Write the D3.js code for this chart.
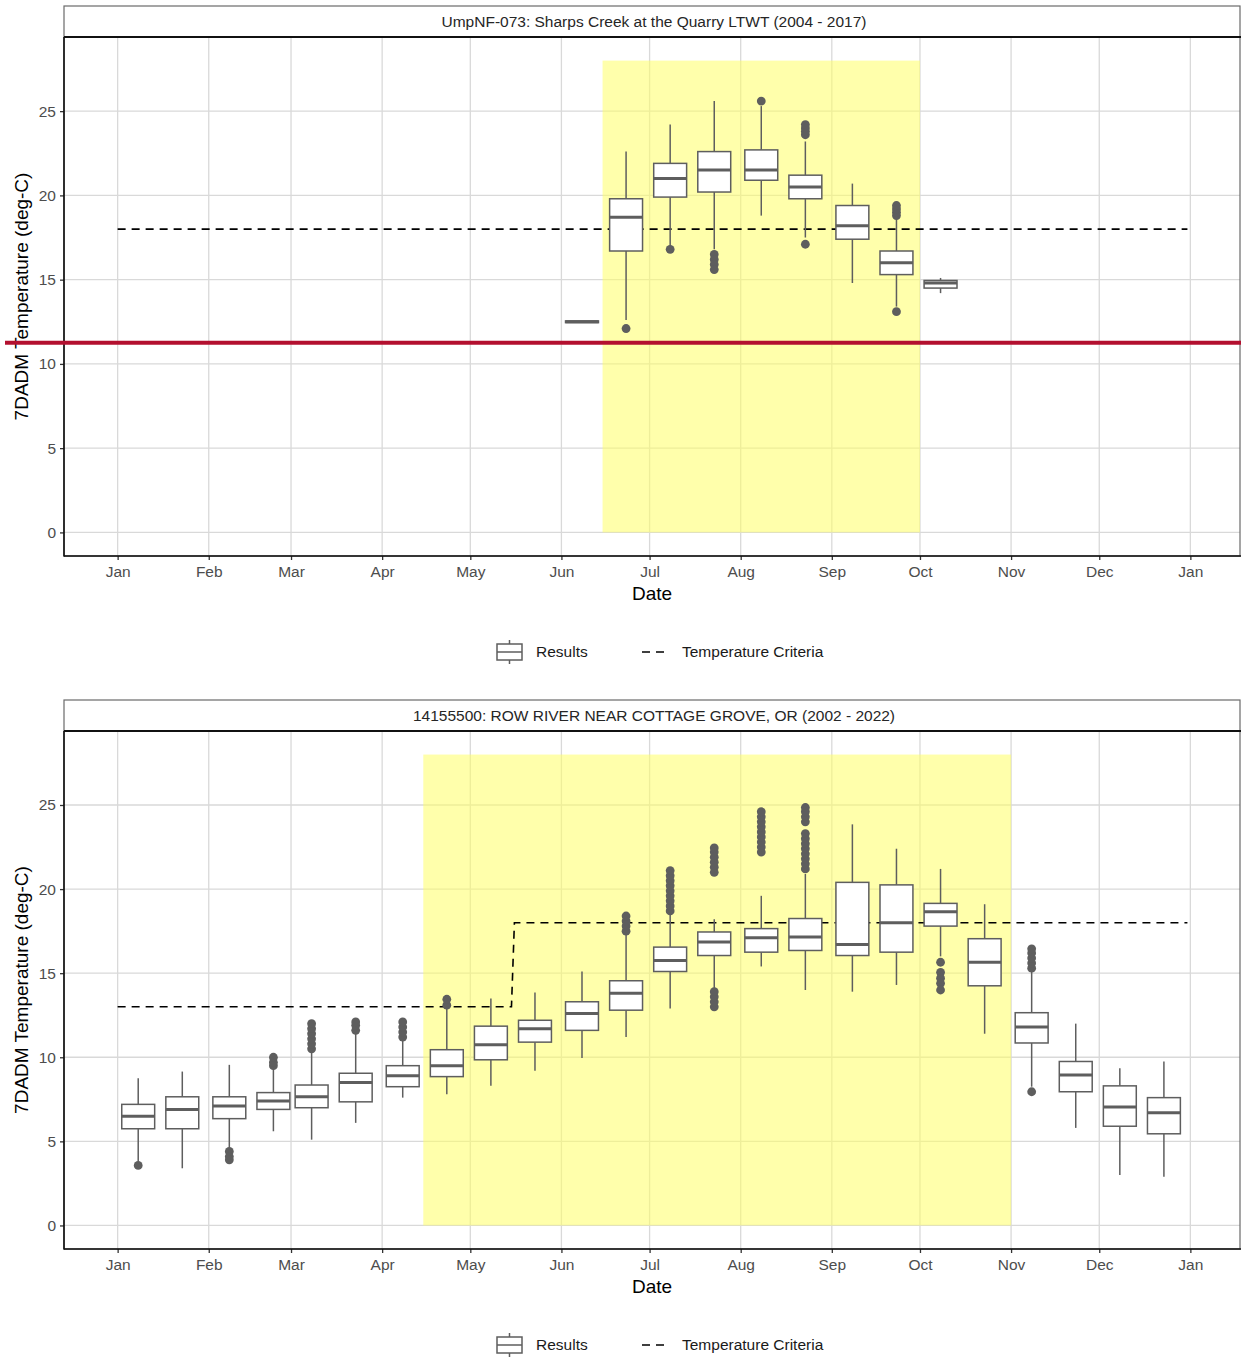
<!DOCTYPE html>
<html>
<head>
<meta charset="utf-8">
<script src="https://cdn.jsdelivr.net/npm/d3@7"></script>
<style>
  html, body { margin: 0; padding: 0; background: #fff; }
  svg { display: block; font-family: "Liberation Sans", Arial, Helvetica, sans-serif; }
</style>
</head>
<body>
<svg id="chart" width="1241" height="1358"></svg>
<script>
// ---- data -------------------------------------------------------------
const monthTickLabels = ["Jan","Feb","Mar","Apr","May","Jun","Jul","Aug","Sep","Oct","Nov","Dec","Jan"];

const sharpsTitle = "UmpNF-073: Sharps Creek at the Quarry LTWT (2004 - 2017)";
const rowTitle = "14155500: ROW RIVER NEAR COTTAGE GROVE, OR (2002 - 2022)";

// half-month 7DADM summaries: period centre (MM-DD), whisker ends, quartiles, median, outliers
const sharpsBoxes = [
  { d: "06-08", lo: 12.5, q1: 12.45, med: 12.5, q3: 12.55, hi: 12.5, out: [] },
  { d: "06-23", lo: 12.6, q1: 16.7, med: 18.7, q3: 19.8, hi: 22.6, out: [12.1] },
  { d: "07-08", lo: 17.0, q1: 19.9, med: 21.0, q3: 21.9, hi: 24.2, out: [16.8] },
  { d: "07-23", lo: 16.8, q1: 20.2, med: 21.5, q3: 22.6, hi: 25.6, out: [16.5, 16.2, 15.9, 15.6] },
  { d: "08-08", lo: 18.8, q1: 20.9, med: 21.5, q3: 22.7, hi: 25.3, out: [25.6] },
  { d: "08-23", lo: 17.5, q1: 19.8, med: 20.5, q3: 21.2, hi: 23.2, out: [17.1, 23.6, 23.8, 24.0, 24.2] },
  { d: "09-08", lo: 14.8, q1: 17.4, med: 18.2, q3: 19.4, hi: 20.7, out: [] },
  { d: "09-23", lo: 13.4, q1: 15.3, med: 16.0, q3: 16.7, hi: 18.6, out: [13.1, 18.8, 19.0, 19.2, 19.4] },
  { d: "10-08", lo: 14.2, q1: 14.5, med: 14.8, q3: 14.95, hi: 15.1, out: [] }
];

const rowBoxes = [
  { d: "01-08", lo: 3.8, q1: 5.75, med: 6.5, q3: 7.2, hi: 8.75, out: [3.57] },
  { d: "01-23", lo: 3.4, q1: 5.75, med: 6.9, q3: 7.65, hi: 9.15, out: [] },
  { d: "02-08", lo: 4.6, q1: 6.35, med: 7.1, q3: 7.65, hi: 9.55, out: [4.4, 4.1, 3.9] },
  { d: "02-23", lo: 5.6, q1: 6.9, med: 7.4, q3: 7.9, hi: 9.4, out: [9.5, 9.7, 10.0] },
  { d: "03-08", lo: 5.1, q1: 7.0, med: 7.65, q3: 8.35, hi: 10.3, out: [10.5, 10.8, 11.1, 11.4, 11.7, 12.0] },
  { d: "03-23", lo: 6.1, q1: 7.35, med: 8.5, q3: 9.05, hi: 11.5, out: [11.6, 11.9, 12.1] },
  { d: "04-08", lo: 7.6, q1: 8.25, med: 8.9, q3: 9.5, hi: 11.0, out: [11.2, 11.5, 11.8, 12.1] },
  { d: "04-23", lo: 7.8, q1: 8.85, med: 9.5, q3: 10.45, hi: 12.9, out: [13.1, 13.45] },
  { d: "05-08", lo: 8.3, q1: 9.85, med: 10.75, q3: 11.85, hi: 13.5, out: [] },
  { d: "05-23", lo: 9.2, q1: 10.9, med: 11.7, q3: 12.2, hi: 13.85, out: [] },
  { d: "06-08", lo: 9.95, q1: 11.6, med: 12.6, q3: 13.3, hi: 15.1, out: [] },
  { d: "06-23", lo: 11.2, q1: 12.8, med: 13.8, q3: 14.55, hi: 17.3, out: [17.5, 17.8, 18.1, 18.4] },
  { d: "07-08", lo: 12.9, q1: 15.1, med: 15.75, q3: 16.55, hi: 18.5, out: [18.7, 19.0, 19.3, 19.6, 19.9, 20.2, 20.5, 20.8, 21.1] },
  { d: "07-23", lo: 14.1, q1: 16.05, med: 16.85, q3: 17.45, hi: 18.2, out: [13.0, 13.3, 13.6, 13.9, 21.0, 21.3, 21.6, 21.9, 22.2, 22.45] },
  { d: "08-08", lo: 15.4, q1: 16.25, med: 17.1, q3: 17.65, hi: 19.6, out: [22.2, 22.5, 22.8, 23.1, 23.4, 23.7, 24.0, 24.3, 24.6] },
  { d: "08-23", lo: 14.0, q1: 16.35, med: 17.15, q3: 18.25, hi: 20.9, out: [21.2, 21.5, 21.8, 22.1, 22.4, 22.7, 23.0, 23.3, 24.0, 24.3, 24.6, 24.85] },
  { d: "09-08", lo: 13.9, q1: 16.05, med: 16.7, q3: 20.4, hi: 23.85, out: [] },
  { d: "09-23", lo: 14.3, q1: 16.25, med: 18.0, q3: 20.25, hi: 22.4, out: [] },
  { d: "10-08", lo: 16.0, q1: 17.8, med: 18.65, q3: 19.15, hi: 21.2, out: [15.65, 15.05, 14.7, 14.4, 14.0] },
  { d: "10-23", lo: 11.4, q1: 14.25, med: 15.65, q3: 17.05, hi: 19.1, out: [] },
  { d: "11-08", lo: 8.25, q1: 10.85, med: 11.8, q3: 12.65, hi: 15.1, out: [15.3, 15.6, 15.9, 16.2, 16.45, 7.95] },
  { d: "11-23", lo: 5.8, q1: 7.95, med: 8.95, q3: 9.75, hi: 12.0, out: [] },
  { d: "12-08", lo: 3.0, q1: 5.9, med: 7.05, q3: 8.3, hi: 9.35, out: [] },
  { d: "12-23", lo: 2.9, q1: 5.45, med: 6.7, q3: 7.6, hi: 9.75, out: [] }
];

// temperature criteria as dated vertices of the dashed line
const sharpsCriteria = [ { d: "01-01", v: 18 }, { d: "12-31", v: 18 } ];
const rowCriteria = [ { d: "01-01", v: 13 }, { d: "05-15", v: 13 }, { d: "05-16", v: 18 }, { d: "12-31", v: 18 } ];

// spawning windows (shaded): start, end, upper value
const sharpsSpawn = { from: "06-15", to: "10-01", top: 28 };
const rowSpawn = { from: "04-15", to: "11-01", top: 28 };

const yTicks = [0, 5, 10, 15, 20, 25];
const referenceLevel = 11.25;   // highlighted level across the upper chart

// ---- helpers ----------------------------------------------------------
const YEAR = 2021;
const DAY = 864e5;
const toDate = s => { const [m, d] = s.split("-").map(Number); return new Date(YEAR, m - 1, d); };
const yearStart = new Date(YEAR, 0, 1), yearEnd = new Date(YEAR + 1, 0, 1);
const pad = 18.25 * DAY;

const svg = d3.select("#chart");
const FONT_TICK = "#4d4d4d";
const BOX_STROKE = "#5e5e5e";
const TXT = 15.5;

function drawPanel(cfg) {
  const g = svg.append("g");
  const { top, stripH, bottom, left, right, frameRight } = cfg;
  const plotTop = top + stripH;

  const x = d3.scaleTime()
    .domain([new Date(+yearStart - pad), new Date(+yearEnd + pad)])
    .range([left, right]);
  const y = d3.scaleLinear().domain([-1.4, 29.4]).range([bottom, plotTop]);

  const monthTicks = d3.timeMonth.range(yearStart, new Date(YEAR + 1, 0, 2));

  // grid
  g.append("g").selectAll("line").data(yTicks).join("line")
    .attr("x1", left).attr("x2", frameRight).attr("y1", d => y(d)).attr("y2", d => y(d))
    .attr("stroke", "#d9d9d9").attr("stroke-width", 1.3);
  g.append("g").selectAll("line").data(monthTicks).join("line")
    .attr("x1", d => x(d)).attr("x2", d => x(d)).attr("y1", plotTop).attr("y2", bottom)
    .attr("stroke", "#d9d9d9").attr("stroke-width", 1.3);

  // spawning window shading
  const sp = cfg.spawn;
  g.append("rect")
    .attr("x", x(toDate(sp.from))).attr("width", x(toDate(sp.to)) - x(toDate(sp.from)))
    .attr("y", y(sp.top)).attr("height", y(0) - y(sp.top))
    .attr("fill", "#ffff66").attr("fill-opacity", 0.55);

  // criteria
  const line = d3.line().x(d => x(toDate(d.d))).y(d => y(d.v));
  g.append("path").datum(cfg.criteria).attr("d", line)
    .attr("fill", "none").attr("stroke", "#000").attr("stroke-width", 1.6)
    .attr("stroke-dasharray", "8,6");

  // boxplots
  const half = 5.6 * DAY;
  const boxes = g.append("g").selectAll("g").data(cfg.boxes).join("g");
  boxes.each(function (b) {
    const s = d3.select(this);
    const c = toDate(b.d);
    const cx = x(c), x0 = x(new Date(+c - half)), x1 = x(new Date(+c + half));
    s.append("line").attr("x1", cx).attr("x2", cx).attr("y1", y(b.hi)).attr("y2", y(b.q3))
      .attr("stroke", BOX_STROKE).attr("stroke-width", 1.5);
    s.append("line").attr("x1", cx).attr("x2", cx).attr("y1", y(b.q1)).attr("y2", y(b.lo))
      .attr("stroke", BOX_STROKE).attr("stroke-width", 1.5);
    s.append("rect").attr("x", x0).attr("width", x1 - x0)
      .attr("y", y(b.q3)).attr("height", Math.max(0, y(b.q1) - y(b.q3)))
      .attr("fill", "#fff").attr("stroke", BOX_STROKE).attr("stroke-width", 1.5);
    s.append("line").attr("x1", x0).attr("x2", x1).attr("y1", y(b.med)).attr("y2", y(b.med))
      .attr("stroke", BOX_STROKE).attr("stroke-width", 3);
    s.selectAll("circle").data(b.out).join("circle")
      .attr("cx", cx).attr("cy", v => y(v)).attr("r", 4.4).attr("fill", "#5e5e5e");
  });

  // frame and strip
  g.append("rect").attr("x", left).attr("y", top).attr("width", frameRight - left).attr("height", bottom - top)
    .attr("fill", "none").attr("stroke", "#6a6a6a").attr("stroke-width", 1.2);
  g.append("line").attr("x1", left).attr("x2", 1241).attr("y1", plotTop).attr("y2", plotTop)
    .attr("stroke", "#111").attr("stroke-width", 1.8);
  g.append("text").attr("x", (left + right) / 2).attr("y", top + stripH / 2).attr("dy", "0.35em")
    .attr("text-anchor", "middle").attr("font-size", TXT).attr("fill", "#262626").text(cfg.title);

  // axes
  const yAxis = d3.axisLeft(y).tickValues(yTicks).tickSize(4).tickPadding(4);
  const ya = g.append("g").attr("transform", `translate(${left},0)`).call(yAxis);
  const xAxis = d3.axisBottom(x).tickValues(monthTicks).tickSize(4).tickPadding(6)
    .tickFormat((d, i) => monthTickLabels[i]);
  const xa = g.append("g").attr("transform", `translate(0,${bottom})`).call(xAxis);
  [ya, xa].forEach(a => {
    a.select(".domain").remove();
    a.selectAll(".tick line").attr("stroke", "#333").attr("stroke-width", 1.3);
    a.selectAll(".tick text").attr("fill", FONT_TICK).attr("font-size", TXT)
      .attr("font-family", "Liberation Sans, Arial, sans-serif");
  });
  g.append("line").attr("x1", left).attr("x2", left).attr("y1", plotTop).attr("y2", bottom + 0.6)
    .attr("stroke", "#111").attr("stroke-width", 1.6);
  g.append("line").attr("x1", left).attr("x2", 1241).attr("y1", bottom).attr("y2", bottom)
    .attr("stroke", "#111").attr("stroke-width", 1.6);

  // titles
  g.append("text").attr("x", (left + frameRight) / 2).attr("y", bottom + 44)
    .attr("text-anchor", "middle").attr("font-size", 19).attr("fill", "#000").text("Date");
  g.append("text")
    .attr("transform", `translate(${left - 36},${(plotTop + bottom) / 2}) rotate(-90)`)
    .attr("text-anchor", "middle").attr("font-size", 19).attr("fill", "#000")
    .text("7DADM Temperature (deg-C)");

  // legend
  const ly = bottom + cfg.legendGap;
  const lg = g.append("g");
  const bx = 497, bw = 25;
  lg.append("line").attr("x1", bx + bw / 2).attr("x2", bx + bw / 2).attr("y1", ly - 12).attr("y2", ly + 12)
    .attr("stroke", BOX_STROKE).attr("stroke-width", 1.5);
  lg.append("rect").attr("x", bx).attr("y", ly - 8).attr("width", bw).attr("height", 16)
    .attr("fill", "#fff").attr("stroke", BOX_STROKE).attr("stroke-width", 1.5);
  lg.append("line").attr("x1", bx).attr("x2", bx + bw).attr("y1", ly).attr("y2", ly)
    .attr("stroke", BOX_STROKE).attr("stroke-width", 1.5);
  lg.append("text").attr("x", 536).attr("y", ly).attr("dy", "0.35em")
    .attr("font-size", TXT).attr("fill", "#1a1a1a").text("Results");
  lg.append("line").attr("x1", 642).attr("x2", 668).attr("y1", ly).attr("y2", ly)
    .attr("stroke", "#000").attr("stroke-width", 1.6).attr("stroke-dasharray", "8,6");
  lg.append("text").attr("x", 682).attr("y", ly).attr("dy", "0.35em")
    .attr("font-size", TXT).attr("fill", "#1a1a1a").text("Temperature Criteria");

  return { x, y };
}

const topPanel = drawPanel({
  top: 6, stripH: 31, bottom: 556, left: 64, right: 1244, frameRight: 1240,
  title: sharpsTitle, boxes: sharpsBoxes, criteria: sharpsCriteria, spawn: sharpsSpawn, legendGap: 96
});
drawPanel({
  top: 700, stripH: 31, bottom: 1249, left: 64, right: 1244, frameRight: 1240,
  title: rowTitle, boxes: rowBoxes, criteria: rowCriteria, spawn: rowSpawn, legendGap: 96
});

// highlighted reference level across the full width of the upper chart
svg.append("line")
  .attr("x1", 5).attr("x2", 1241)
  .attr("y1", topPanel.y(referenceLevel)).attr("y2", topPanel.y(referenceLevel))
  .attr("stroke", "#b3102f").attr("stroke-width", 4);
</script>
</body>
</html>
